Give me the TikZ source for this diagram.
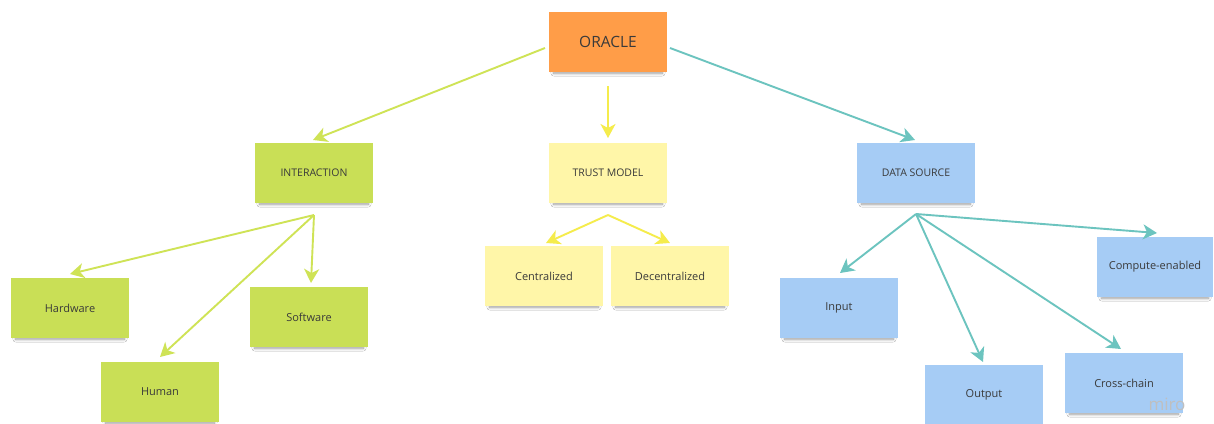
\documentclass[tikz,border=0pt]{standalone}
\usepackage{fontspec}
\setmainfont{Open Sans}
\usetikzlibrary{arrows.meta,shadows.blur}
\definecolor{noteorange}{HTML}{FF9D48}
\definecolor{notegreen}{HTML}{C9DF56}
\definecolor{noteyellow}{HTML}{FFF6A8}
\definecolor{noteblue}{HTML}{A6CCF5}
\definecolor{linkgreen}{HTML}{CFE356}
\definecolor{linkyellow}{HTML}{F5EC4C}
\definecolor{linkteal}{HTML}{6CC4BF}
\definecolor{inktext}{HTML}{3A3A3A}
\tikzset{
  note/.style={minimum width=118pt, minimum height=60pt, inner sep=0pt,
    text=inktext, font=\fontsize{11}{13}\selectfont,
    blur shadow={shadow xshift=0pt, shadow yshift=-4pt, shadow scale=0.92,
      shadow blur radius=3pt, shadow blur steps=8, shadow opacity=40}},
  headtext/.style={font=\fontsize{10.5}{12}\selectfont},
  link/.style={line width=1.9pt, -{Stealth[length=14pt,width=15pt,inset=4pt]}},
}
\begin{document}
\begin{tikzpicture}[x=1pt,y=-1pt]
\useasboundingbox[fill=white] (0,0) rectangle (1214,423);

% top level
\node[note, fill=noteorange, font=\fontsize{15.5}{18}\selectfont] (oracle) at (608,42) {ORACLE};

% second level
\node[note, fill=notegreen, headtext]  (inter) at (314,173) {INTERACTION};
\node[note, fill=noteyellow, headtext] (trust) at (608,173) {TRUST MODEL};
\node[note, fill=noteblue, headtext]   (data)  at (916,173) {DATA SOURCE};

% interaction leaves
\node[note, fill=notegreen] (hw)   at (70,308)  {Hardware};
\node[note, fill=notegreen] (sw)   at (309,317) {Software};
\node[note, fill=notegreen] (hum)  at (160,392) {Human};

% trust model leaves
\node[note, fill=noteyellow] (cen) at (544,276) {Centralized};
\node[note, fill=noteyellow] (dec) at (670,276) {Decentralized};

% data source leaves
\node[note, fill=noteblue] (inp)  at (839,308)  {Input};
\node[note, fill=noteblue] (outp) at (984,395)  {Output};
\node[note, fill=noteblue] (cross) at (1124,383) {Cross-chain};
\node[note, fill=noteblue, minimum width=116pt] (comp) at (1155,267) {Compute-enabled};

% fan-out points below the notes
\coordinate (interfan) at (314,215);
\coordinate (trustfan) at (608,215);
\coordinate (datafan)  at (916,214);
\coordinate (oracleL) at (545,48);
\coordinate (oracleR) at (670,48);
\coordinate (oracleB) at (608,86);

% connectors from the top note
\draw[link, linkgreen]  (oracleL) -- (313,140);
\draw[link, linkyellow] (oracleB) -- (608,138);
\draw[link, linkteal]   (oracleR) -- (915,140);

% interaction branches
\draw[link, linkgreen] (interfan) -- (70,274);
\draw[link, linkgreen] (interfan) -- (160,357);
\draw[link, linkgreen] (interfan) -- (311,283);

% trust model branches
\draw[link, linkyellow] (trustfan) -- (546,243);
\draw[link, linkyellow] (trustfan) -- (670,243);

% data source branches
\draw[link, linkteal] (datafan) -- (840,273);
\draw[link, linkteal] (datafan) -- (983,362);
\draw[link, linkteal] (datafan) -- (1121,349);
\draw[link, linkteal] (datafan) -- (1157,233);

% watermark
\node[text=black!25, font=\fontsize{17}{19}\selectfont] (mark) at (1167,404) {miro};
\end{tikzpicture}
\end{document}
